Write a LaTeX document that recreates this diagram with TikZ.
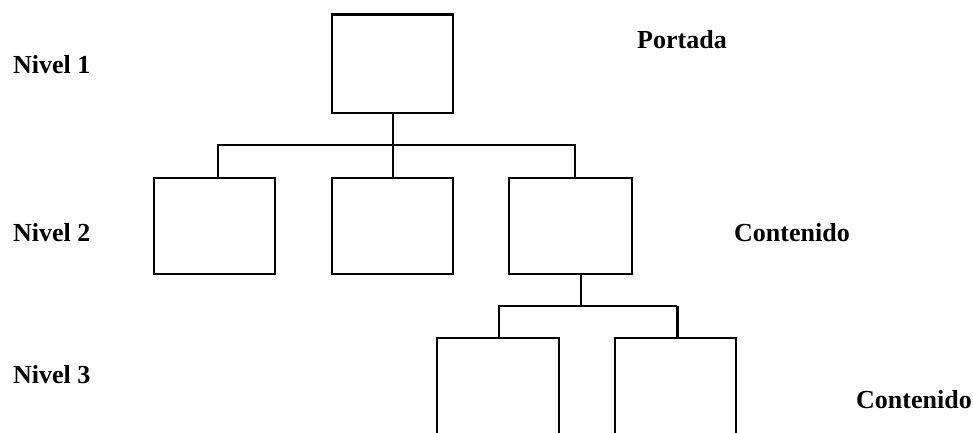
\documentclass[tikz,border=0pt]{standalone}
\usepackage{fontspec}
\setmainfont{Liberation Serif}

\begin{document}
\begin{tikzpicture}[x=1pt,y=-1pt,
  caja/.style={draw, line width=1.8pt, minimum width=121pt, minimum height=96pt, inner sep=0pt},
  etiqueta/.style={anchor=base west, inner sep=0pt, font=\fontsize{26}{30}\selectfont\bfseries},
  linea/.style={line width=1.8pt}]
\clip (0,0) rectangle (973,432); % marco de la figura

% nivel 1
\node[caja, minimum height=98pt] (portada) at (392.5,64) {};
\draw[line width=3pt] (portada.north west) -- (portada.north east); % borde superior grueso
% nivel 2
\node[caja] (a) at (214.5,226) {};
\node[caja] (b) at (392.5,226) {};
\node[caja, minimum width=123pt] (c) at (570.5,226) {};
% nivel 3
\node[caja, minimum width=122pt, minimum height=107pt] (d) at (498,391.5) {};
\node[caja, minimum width=121pt, minimum height=107pt] (e) at (675.5,391.5) {};

\coordinate (bus1) at (393,145);
\coordinate (bus2) at (581,306);

\draw[linea] ([xshift=0.5pt]portada.south) -- (bus1);
\draw[linea] ([xshift=3.5pt]a.north) -- ([xshift=3.5pt]a.north |- bus1)
   -- ([xshift=4.5pt]c.north |- bus1) -- ([xshift=4.5pt]c.north);
\draw[linea] ([xshift=0.5pt]b.north) -- (bus1);

\draw[linea] ([xshift=10.5pt]c.south) -- (bus2);
\draw[linea] ([xshift=1pt]d.north) -- ([xshift=1pt]d.north |- bus2)
   -- ([xshift=1.5pt]e.north |- bus2);
\draw[line width=3pt] ([xshift=1.5pt]e.north |- bus2) -- ([xshift=1.5pt]e.north);

% textos
\node[etiqueta] (n1) at (13,73) {Nivel 1};
\node[etiqueta] (por) at (637,48) {Portada};
\node[etiqueta] (n2) at (13,241) {Nivel 2};
\node[etiqueta] (con1) at (734,241) {Contenido};
\node[etiqueta] (n3) at (13,383) {Nivel 3};
\node[etiqueta] (con2) at (856,408) {Contenido};
\end{tikzpicture}
\end{document}
